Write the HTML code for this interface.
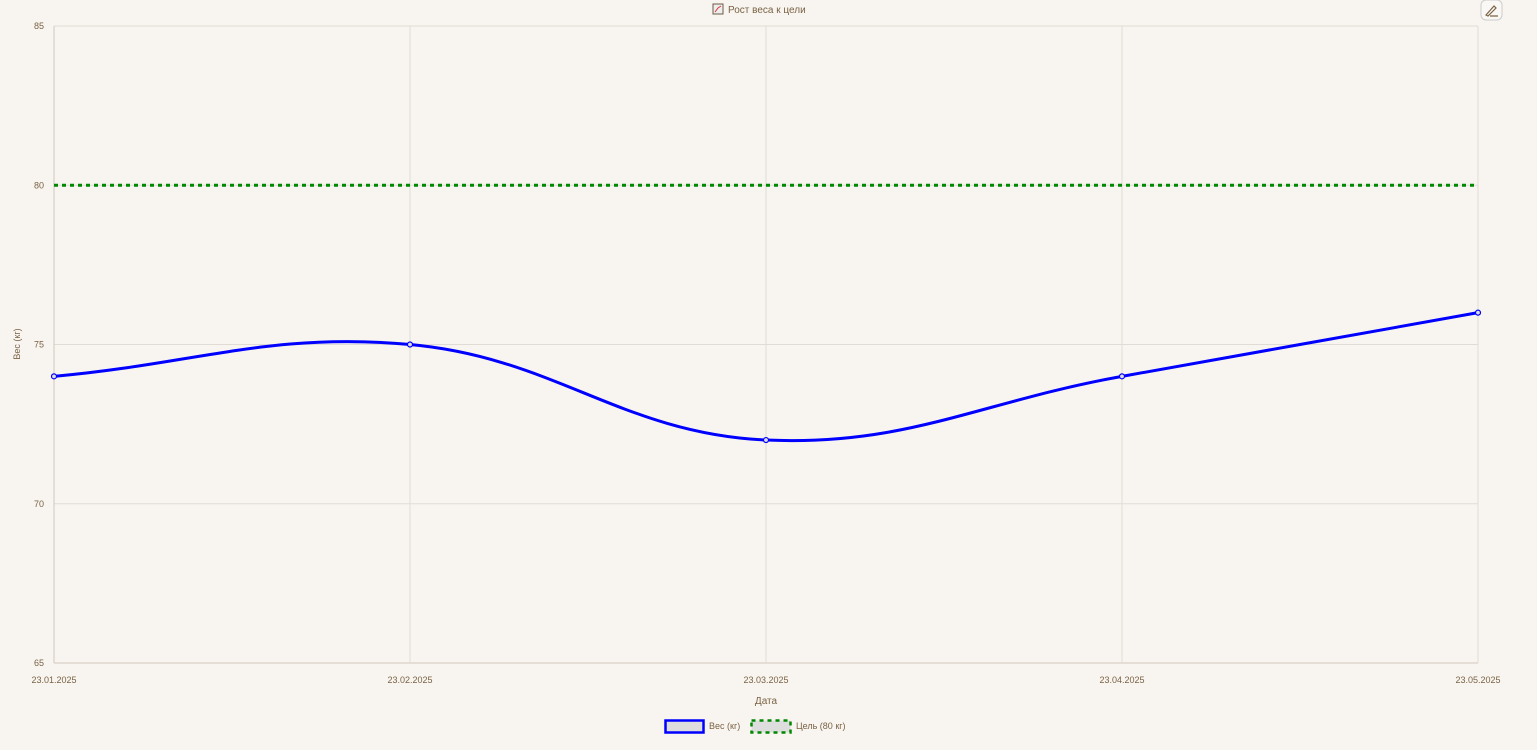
<!DOCTYPE html>
<html><head><meta charset="utf-8"><style>
body{margin:0;background:#f8f5f0;font-family:"Liberation Sans",sans-serif;}
svg{display:block}
</style></head><body>
<svg id="c" width="1537" height="750">
<rect width="1537" height="750" fill="#f8f5f0"/>
<g>
<rect x="713" y="4" width="10" height="10" fill="#eee" stroke="#6b5a45" stroke-width="1"/>
<path d="M715 12 L718 8 L721 6" stroke="#d33" fill="none"/>
<text x="728" y="13" font-size="10" fill="#7a6244">Рост веса к цели</text>
</g>
<g>
<rect x="1481" y="0" width="21" height="20" rx="5" fill="#faf8f5" stroke="#ccc"/>
<path d="M1486 15 L1494 6 L1496 8 L1488 16 Z M1490 16 L1498 16" stroke="#7a6244" fill="none" stroke-width="1.2"/>
</g>
<g id="grid"></g>
<g id="marks"></g>
<text x="20" y="344" font-size="9" fill="#7a6244" transform="rotate(-90 20 344)" text-anchor="middle">Вес (кг)</text>
<text x="766" y="704" font-size="10" fill="#7a6244" text-anchor="middle">Дата</text>
<g>
<rect x="665.5" y="720.5" width="38" height="12" fill="#ddd" stroke="#00f" stroke-width="2.5"/>
<text x="709" y="729" font-size="9" fill="#7a6244">Вес (кг)</text>
</g>
<g>
<rect x="751.5" y="720.5" width="39" height="12" fill="#ddd" stroke="#080" stroke-width="2.5" stroke-dasharray="4 4"/>
<text x="796" y="729" font-size="9" fill="#7a6244">Цель (80 кг)</text>
</g>
</svg>
<script>
const categories=["23.01.2025","23.02.2025","23.03.2025","23.04.2025","23.05.2025"];
const weights=[74,75,72,74,76];
const goalValue=80;
const yTicks=[65,70,75,80,85];
const L=54,R=1478,T=26,B=663,yMin=65,yMax=85;
const x=i=>L+i*(R-L)/(categories.length-1);
const y=v=>B-(v-yMin)/(yMax-yMin)*(B-T);
const NS="http://www.w3.org/2000/svg";
function mk(t,a,p){const e=document.createElementNS(NS,t);for(const k in a)e.setAttribute(k,a[k]);p.appendChild(e);return e;}
const g=document.getElementById('grid'),m=document.getElementById('marks');
yTicks.forEach(v=>{
const l=mk('line',{x1:L,x2:R,y1:y(v),y2:y(v),stroke:v===yMin?'#cfc8bd':'#e0dcd5'},g);


const t=mk('text',{x:L-10,y:y(v)+3,'font-size':9,fill:'#7a6244','text-anchor':'end'},g);t.textContent=v;


});
categories.forEach((c,i)=>{
const l=mk('line',{x1:x(i),x2:x(i),y1:T,y2:B,stroke:i===0?'#cfc8bd':'#e0dcd5'},g);


const t=mk('text',{x:x(i),y:B+20,'font-size':9,fill:'#7a6244','text-anchor':'middle'},g);t.textContent=c;


});
const gl=mk('line',{x1:L,x2:R,y1:y(goalValue),y2:y(goalValue),stroke:'#080','stroke-width':3,'stroke-dasharray':'4 4'},m);


const P=weights.map((v,i)=>({x:x(i),y:y(v)}));const tn=0.4;const cps=P.map((p,i)=>{
const a=P[i-1]||p,b=P[i+1]||p;const d01=Math.hypot(p.x-a.x,p.y-a.y),d12=Math.hypot(b.x-p.x,b.y-p.y);
let s01=d01/(d01+d12),s12=d12/(d01+d12);if(isNaN(s01))s01=0;if(isNaN(s12))s12=0;
return{px:p.x-tn*s01*(b.x-a.x),py:p.y-tn*s01*(b.y-a.y),nx:p.x+tn*s12*(b.x-a.x),ny:p.y+tn*s12*(b.y-a.y)};});
let d=`M${P[0].x} ${P[0].y}`;for(let i=1;i<P.length;i++)d+=` C${cps[i-1].nx} ${cps[i-1].ny} ${cps[i].px} ${cps[i].py} ${P[i].x} ${P[i].y}`;
const wl=mk('path',{d,fill:'none',stroke:'#00f','stroke-width':3},m);


P.forEach(p=>{const c=mk('circle',{cx:p.x,cy:p.y,r:2.5,fill:'#ddd',stroke:'#00f','stroke-width':1.2},m);

});
</script>
</body></html>
